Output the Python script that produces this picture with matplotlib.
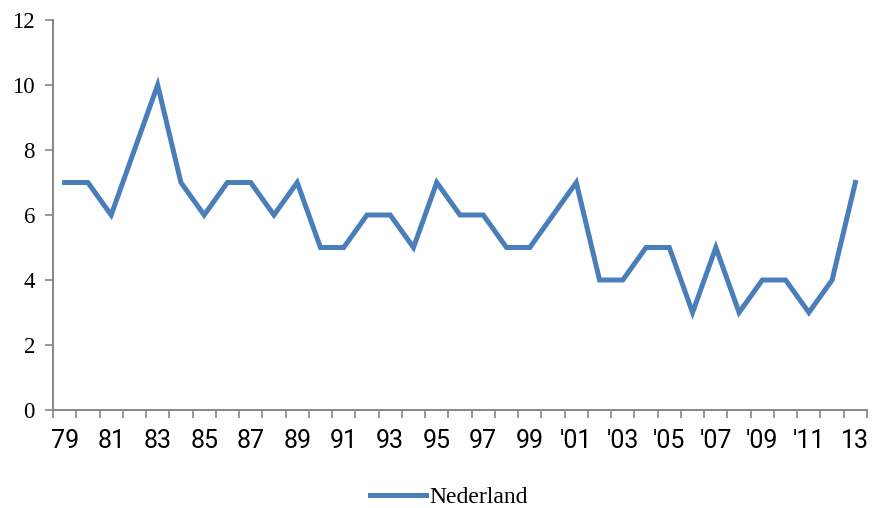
import numpy as np
import matplotlib
matplotlib.use("Agg")
import matplotlib.pyplot as plt

# data
years = ["79", "80", "81", "82", "83", "84", "85", "86", "87", "88", "89", "90",
         "91", "92", "93", "94", "95", "96", "97", "98", "99", "00", "'01", "'02",
         "'03", "'04", "'05", "'06", "'07", "'08", "'09", "'10", "'11", "'12", "13"]
nederland = [7, 7, 6, 8, 10, 7, 6, 7, 7, 6, 7, 5, 5, 6, 6, 5, 7, 6, 6, 5, 5, 6, 7,
             4, 4, 5, 5, 3, 5, 3, 4, 4, 3, 4, 7]
y_ticks = [0, 2, 4, 6, 8, 10, 12]

fig = plt.figure(figsize=(8.72, 5.08), dpi=100)
ax = fig.add_axes([53 / 872, 1 - 410 / 508, (867 - 53) / 872, (410 - 20) / 508])

x = np.arange(len(years))
line, = ax.plot(x, nederland, color="#4A7EBB", lw=3.6, solid_joinstyle="miter",
                label="Nederland")

ax.set_xlim(-0.5, len(years) - 0.5)
ax.set_ylim(0, 12)
ax.set_yticks(y_ticks)
ax.set_yticklabels([str(v) for v in y_ticks], family="Liberation Serif", fontsize=16.5)

# ticks sit on category boundaries, labels every other category
ax.set_xticks(np.arange(len(years) + 1) - 0.5)
ax.set_xticklabels([])
ax.set_xticks(x[::2], minor=True)
ax.set_xticklabels(years[::2], minor=True, family="Roboto", fontsize=18)
ax.tick_params(axis="x", which="minor", length=0, pad=14)
ax.tick_params(axis="x", which="major", length=6, width=1.2, color="#868686")
ax.tick_params(axis="y", length=6, width=1.2, color="#868686", pad=7)

for side in ["top", "right"]:
    ax.spines[side].set_visible(False)
for side in ["left", "bottom"]:
    ax.spines[side].set_color("#868686")
    ax.spines[side].set_linewidth(1.4)

leg = fig.legend(handles=[line], loc="center", bbox_to_anchor=(449 / 872, 1 - 497 / 508),
                 frameon=False, prop={"family": "Liberation Serif", "size": 17},
                 handlelength=2.4, handletextpad=0.15)

fig.savefig("out.png", dpi=100)
